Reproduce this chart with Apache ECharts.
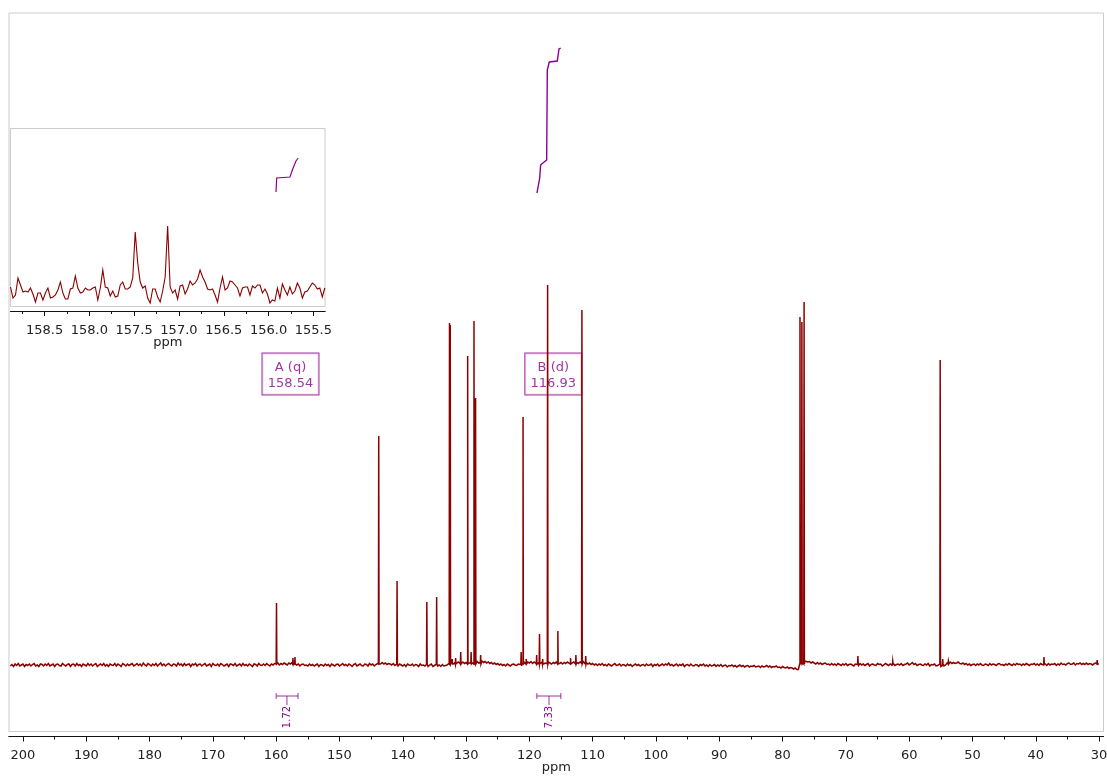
<!DOCTYPE html>
<html>
<head>
<meta charset="utf-8">
<style>
  html, body { margin: 0; padding: 0; background: #fff; }
  #chart { width: 1107px; height: 776px; }
</style>
<script src="https://cdn.jsdelivr.net/npm/echarts@6/dist/echarts.min.js"></script>
</head>
<body>
<div id="chart"></div>
<script>
// tick labels
const mainTicks = [200, 190, 180, 170, 160, 150, 140, 130, 120, 110, 100, 90, 80, 70, 60, 50, 40, 30];
const mainMinorTicks = [195, 185, 175, 165, 155, 145, 135, 125, 115, 105, 95, 85, 75, 65, 55, 45, 35];
const insetTicks = [158.5, 158, 157.5, 157, 156.5, 156, 155.5];
const insetMinorTicks = [158.75, 158.25, 157.75, 157.25, 156.75, 156.25, 155.75];

// peaks: ppm and height above baseline
const peakPpm = [159.95, 157.35, 157.03, 143.8, 140.9, 136.2, 134.65, 132.62, 132.5, 132.2, 131.65, 130.85, 129.75, 129.2, 128.75, 128.5, 127.7, 121.3, 121.0, 120.5, 118.85, 118.4, 117.9, 117.12, 115.5, 113.5, 112.65, 111.7, 111.1, 77.25, 76.95, 76.6, 68.1, 62.6, 55.1, 54.7, 53.8, 38.7, 30.3];
const peakHeight = [62, 7, 8, 229, 84, 63, 68, 342, 340, 6, 7, 13, 309, 13, 344, 267, 10, 13, 248, 6, 10, 31, 6, 380, 34, 7, 10, 355, 9, 348, 343, 363, 9, 4, 305, 6, 4, 8, 5];

// baseline of the main spectrum, one value every 0.25 ppm from 202 downwards (one row = 10 ppm)
const baselineStart = 202;
const baselineStep = 0.25;
const baselineValues = [
  -1, 0.5, -1.5, 1, -0.5, 1.5, -1, 0, 1, -1.5, 0.5, -0.5, 1, -1, 0.5, 1.5, -1, 0, -1.5, 1, 0.5, -1, 1, -0.5, 1.5, -1, 0, 1, -1.5, 0.5, 1, -0.5, -1, 1.5, 0, -1, 0.5, 1, -1.5, 0.5,
  1, -1, 1.5, -0.5, 0.5, -1.5, 1, 0, -1, 1.5, -0.5, 1, -1, 0.5, 1.5, -1.5, 0, 1, -0.5, 1.5, -1, 0.5, -1.5, 1, 0, -0.5, 1.5, -1, 1, 0, -1.5, 1.5, 0.5, -1, 1, -0.5, 0.5, 1.5, -1, 0,
  1.5, -0.5, 1, -1, 2, 0, -1, 1.5, 0.5, -1, 1, -0.5, 1.5, -1, 0.5, 2, -0.5, 1, -1, 0.5, 1.5, 0, -1, 1, 0.5, -1, 2, 0, 1, -1, 1.5, -0.5, 0.5, 1, -1.5, 1, 0, 1.5, -1, 0.5,
  1, -1, 0.5, 1.5, -1, 0, 1, -1.5, 1.5, 0, -0.5, 1, -1, 1.5, 0.5, -1, 0, 1, -1.5, 1, 0.5, -0.5, 1.5, -1, 0, 1, -1, 1.5, -0.5, 0.5, -1, 1, 0, -1.5, 1, 0.5, -1, 1.5, 0, -0.5,
  1, -0.5, 1.5, 0, -1, 1, 0, 1.5, 1, 2, 0, 1.5, 0.5, 2, 1, 0, 2, 1, 2.5, 0.5, 1.5, 0, 1, -1, 0.5, 1, -0.5, 0, -1, 1, -0.5, 0.5, -1, 0, 1, -1.5, 0.5, 0, -1, 1,
  -0.5, 0.5, -1.5, 1, 0, -1, 0.5, 1, -1, 0, 1.5, -0.5, 0.5, -1, 1, 0, -1.5, 0.5, 1.5, -1, 0, 1, -0.5, -1, 1, 0.5, -1, 1.5, 0, 1, -1, 0.5, 1.5, 2, 1, 2.5, 1, 2, 0.5, 1.5,
  1, 0, 1.5, -0.5, 0.5, -1, 1, 0, -1, 0.5, -1.5, 1, 0, -0.5, 1, -1, 0.5, 0, -1.5, 1, -0.5, 0, -1, 0.5, -1.5, 0, 1, -1.5, -0.5, 0.5, -1, 0, -1.5, 0.5, -1, -0.5, 0, 1.5, 0.5, 2,
  1, 2.5, 1.5, 3, 2, 1.5, 3, 1.5, 2.5, 3.5, 2, 3, 2, 4, 2.5, 3.5, 2, 3, 4, 2.5, 3.5, 2, 3, 1.5, 2.5, 1, 2, 0.5, 1.5, 0, 1, -0.5, 0.5, -1, 1, 0, -1, 0.5, 1, 0,
  -0.5, 1, 0.5, -1, 1, 2.5, 1.5, 3, 2, 3.5, 1.5, 3, 2, 1, 2.5, 1.5, 3, 1, 2, 1.5, 3, 2, 1, 2.5, 1.5, 3, 2, 1.5, 2.5, 1, 2.5, 1.5, 3, 2, 1, 2, 3, 1.5, 2.5, 1.5,
  3, 2, 3.5, 1.5, 2.5, 1, 2, 0.5, 1.5, 0, 1, -0.5, 1, 0, 1.5, -0.5, 0.5, -1, 1, 0, -1, 0.5, 1.5, -0.5, 0, 1, -1, 0.5, 0, -1, 1, -0.5, 0.5, -1.5, 0, 1, -0.5, 0.5, -1, 0,
  0.5, -1, 1, -0.5, 0, 1, -1.5, 0.5, -0.5, 1, -1, 0, 1, -0.5, 1, 0, 2, -0.5, 0.5, -1, 0, 1, -1, 0.5, -0.5, 1, -1.5, 0, 0.5, -1, 1, -0.5, -1, 0.5, 0, -1.5, 0.5, -0.5, 1, -1,
  0, -1.5, 0.5, -1, -0.5, 0.5, -1.5, 0, -1, 0.5, -1.5, -0.5, 0, -2, -0.5, -1, 0, -1.5, -0.5, -2, -1, 0, -1.5, -0.5, -2, -1, -0.5, -2, -1, -1.5, -0.5, -2, -1.5, -1, -2.5, -1, -2, -1.5, -0.5, -2,
  -1, -2.5, -1.5, -2, -1, -2.5, -2, -3, -1.5, -2.5, -3, -2, -3.5, -2.5, -3, -4, -3, -4.5, -4.5, 1, 2, 2, 4, 3.5, 3, 3.5, 2, 3, 2, 1, 2.5, 1, 2, 0.5, 1.5, 2, 0.5, 1, 0, 1.5,
  0, 1, -0.5, 1.5, 0.5, -0.5, 1, 0, 1.5, -0.5, 0.5, 1, 0, -1, 1, 0.5, -0.5, 1.5, 0, 1, -0.5, 0.5, 1.5, -1, 0.5, 1, 0, -0.5, 1.5, 0.5, 1, -1, 0, 1.5, 0.5, -0.5, 1, 0, 1.5, -0.5,
  0.5, 1, 0, 1.5, -0.5, 0.5, 1, 2, 0, 1, 2.5, 0.5, 1.5, -0.5, 0.5, 1, 0, -0.5, 1, 0, 1.5, -1, 0.5, 0, 1, -1, -0.5, 0.5, -1.5, -0.5, -1, 0, 2, 2.5, 3, 1.5, 2.5, 1.5, 2, 3,
  1.5, 1, 2, 0.5, 1.5, 0, 1, -0.5, 0.5, 1, -0.5, 1, 0, 1.5, 0, -0.5, 1, 0.5, -0.5, 1.5, 0, 1, 0.5, -0.5, 1, 1.5, 0, 0.5, -0.5, 1, 0, 1.5, 0.5, -0.5, 1, 0, 1.5, 0.5, 1, -0.5,
  1, 0, 1.5, 0.5, -0.5, 1, 0.5, 1.5, 0, 1, -0.5, 1.5, 0.5, 0, 1, -0.5, 1.5, 0, 1, 0.5, 1.5, -0.5, 1, 0, 2, 0.5, 1, 0, 1.5, 2, 0.5, 1, 2, 0, 1.5, 1, 2, 0.5, 1.5, 0.5,
  2, 0.5, 1.5, 1, 0, 1.5, 2, 0.5, 1
];

// inset spectrum, one value every 0.0278 ppm from 158.88 downwards
const insetStart = 158.88;
const insetStep = 0.02784;
const insetValues = [
  3, -8, -5, 12, 5, -2, -1, -2, 2, -4, -12, -3, -3, -10, -3, 2, -8, -7, -5, 0,
  8, -3, -9, -9, 1, 2, 14, 2, -3, -2, 2, 0, 0, 2, 3, -10, 2, 20, 3, 2,
  -6, -1, -7, -6, 5, 8, 1, 1, 3, 12, 58, 27, 8, 2, 4, -8, -13, 1, 1, -7,
  -12, -1, 13, 64, 3, -3, 0, -9, 4, 5, -4, 1, 9, 5, 7, 11, 20, 13, 8, 1,
  0, 1, -5, -12, 2, 13, 0, 2, 9, 8, 5, 2, -6, 2, 3, 3, -5, 4, 2, 5,
  5, -3, 1, -4, -13, -10, -11, 2, -8, 6, 0, -5, 3, -4, -1, 7, 2, -8, -2, -1,
  3, 7, 5, 1, 2, -7, 2
];

// integral curves, drawn against the main axis
const integralA = [[160.03, 473], [159.92, 487], [157.82, 488], [157.39, 496], [156.87, 504], [156.51, 507]];
const integralB = [[118.8, 472], [118.37, 487], [118.22, 500], [118.06, 501], [117.27, 505], [117.17, 595], [116.86, 603], [115.59, 604], [115.32, 616], [115.05, 617]];

// integral brackets under the baseline
const bracketFrom = [160.0, 118.82];
const bracketTo = [156.55, 115.03];
const bracketMid = [158.3, 116.9];
const bracketLabels = ['1.72', '7.33'];

// multiplet boxes
const boxPpm = [157.74, 116.22];
const boxLabels = ['A (q)\n158.54', 'B (d)\n116.93'];

const DARKRED = '#8b0000';
const PURPLE = '#8b008b';
const FONT = '"DejaVu Sans", sans-serif';

function buildSpectrum() {
  const pts = baselineValues.map((v, i) => [baselineStart - i * baselineStep, v]);
  peakPpm.forEach((p, i) => {
    pts.push([p + 0.05, 1], [p, peakHeight[i]], [p - 0.05, 1]);
  });
  pts.sort((a, b) => b[0] - a[0]);
  return pts;
}

const insetData = insetValues.map((v, i) => [insetStart - i * insetStep, v]);

function xAxisBase(grid, min, max, offset) {
  return {
    type: 'value', gridIndex: grid, inverse: true, min: min, max: max,
    position: 'bottom', offset: offset, splitLine: { show: false },
    axisLine: { show: true, onZero: false, lineStyle: { color: '#111', width: 1 } }
  };
}

// the line series drops segments under 2px, which flattens the noise, so draw a plain polyline
function traceSeries(points, xIndex, yIndex, color, width, z) {
  return {
    type: 'custom', xAxisIndex: xIndex, yAxisIndex: yIndex, z: z, silent: true, clip: true,
    data: points,
    renderItem: function (params, api) {
      if (params.dataIndex !== 0) return null;
      return {
        type: 'polyline',
        shape: { points: points.map(p => api.coord(p)) },
        style: { fill: null, stroke: color, lineWidth: width, lineJoin: 'miter' }
      };
    }
  };
}

function renderBracket(params, api) {
  const i = params.dataIndex;
  const y = api.coord([bracketFrom[i], -31])[1];
  const x0 = api.coord([bracketFrom[i], 0])[0];
  const x1 = api.coord([bracketTo[i], 0])[0];
  const xm = api.coord([bracketMid[i], 0])[0];
  const line = (a, b, c, d) => ({
    type: 'line', shape: { x1: a, y1: b, x2: c, y2: d },
    style: { stroke: PURPLE, lineWidth: 1, opacity: 0.8 }
  });
  return {
    type: 'group',
    children: [
      line(x0, y, x1, y),
      line(x0, y - 3, x0, y + 3),
      line(x1, y - 3, x1, y + 3),
      line(xm, y, xm, y + 9),
      {
        type: 'text', x: xm, y: y + 21, rotation: Math.PI / 2,
        style: { text: bracketLabels[i], fill: PURPLE, font: '10px ' + FONT, align: 'center', verticalAlign: 'middle' }
      }
    ]
  };
}

const chart = echarts.init(document.getElementById('chart'));
chart.setOption({
  animation: false,
  backgroundColor: '#fff',
  textStyle: { fontFamily: FONT },
  grid: [
    { left: 9, top: 13, width: 1094.5, height: 718.5, show: true, borderColor: '#ccc', borderWidth: 1, backgroundColor: '#fff', outerBoundsMode: 'none' },
    { left: 10.5, top: 128.5, width: 314.5, height: 178, show: true, borderColor: '#ccc', borderWidth: 1, backgroundColor: '#fff', outerBoundsMode: 'none' }
  ],
  xAxis: [
    Object.assign(xAxisBase(0, 29.3, 202.21, 5), {
      name: 'ppm', nameLocation: 'middle', nameGap: 25, nameMoveOverlap: false,
      nameTextStyle: { color: '#222', fontSize: 13, fontFamily: FONT },
      axisTick: { show: true, length: 5, customValues: mainTicks, lineStyle: { color: '#111' } },
      axisLabel: { show: true, margin: 13, color: '#222', fontSize: 13, fontFamily: FONT, customValues: mainTicks, hideOverlap: false }
    }),
    Object.assign(xAxisBase(0, 29.3, 202.21, 5), {
      axisTick: { show: true, length: 3, customValues: mainMinorTicks, lineStyle: { color: '#111' } },
      axisLabel: { show: false }
    }),
    Object.assign(xAxisBase(1, 155.37, 158.88, 4.5), {
      name: 'ppm', nameLocation: 'middle', nameGap: 25, nameMoveOverlap: false,
      nameTextStyle: { color: '#222', fontSize: 13, fontFamily: FONT },
      axisTick: { show: true, length: 5, customValues: insetTicks, lineStyle: { color: '#111' } },
      axisLabel: { show: true, margin: 13, color: '#222', fontSize: 13, fontFamily: FONT, customValues: insetTicks, hideOverlap: false, formatter: v => v.toFixed(1) }
    }),
    Object.assign(xAxisBase(1, 155.37, 158.88, 4.5), {
      axisTick: { show: true, length: 3, customValues: insetMinorTicks, lineStyle: { color: '#111' } },
      axisLabel: { show: false }
    })
  ],
  yAxis: [
    { type: 'value', gridIndex: 0, min: -66.5, max: 652, show: false },
    { type: 'value', gridIndex: 1, min: -16.5, max: 161.5, show: false }
  ],
  series: [
    {
      type: 'scatter', xAxisIndex: 0, yAxisIndex: 0, z: 1, symbolSize: 0, silent: true,
      data: boxPpm.map(p => ({
        value: [p, 291],
        label: {
          show: true, position: 'inside', formatter: ' ', width: 56, height: 41,
          borderColor: PURPLE, borderWidth: 1, backgroundColor: '#fff'
        }
      }))
    },
    {
      type: 'scatter', xAxisIndex: 0, yAxisIndex: 0, z: 1, symbolSize: 0, silent: true,
      data: boxPpm.map((p, i) => ({
        value: [p, 289],
        label: {
          show: true, position: 'inside', formatter: boxLabels[i], color: PURPLE, fontSize: 13, fontFamily: FONT,
          lineHeight: 16, align: 'center', verticalAlign: 'middle'
        }
      }))
    },
    traceSeries(buildSpectrum(), 0, 0, DARKRED, 1.5, 3),
    traceSeries(insetData, 2, 1, DARKRED, 1.1, 3),
    traceSeries(integralA, 0, 0, PURPLE, 1.2, 4),
    traceSeries(integralB, 0, 0, PURPLE, 1.4, 4),
    {
      type: 'custom', xAxisIndex: 0, yAxisIndex: 0, z: 4, silent: true, clip: false,
      renderItem: renderBracket,
      data: bracketMid.map(p => [p, -31])
    }
  ]
});
</script>
</body>
</html>
